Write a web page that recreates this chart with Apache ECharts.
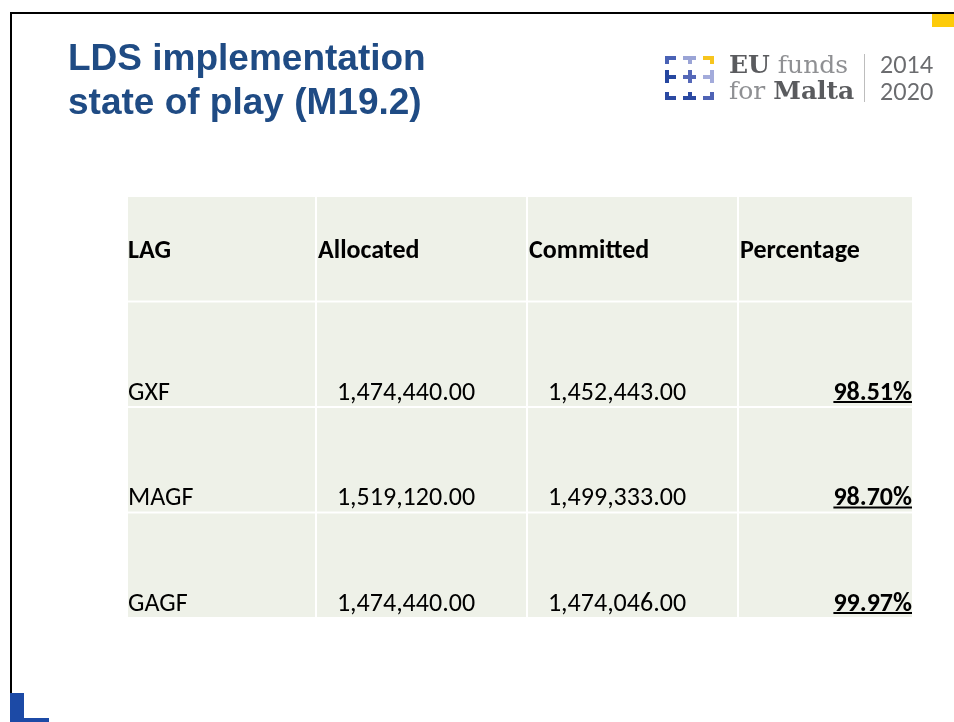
<!DOCTYPE html>
<html>
<head>
<meta charset="utf-8">
<title>LDS implementation state of play (M19.2)</title>
<script src="https://cdn.jsdelivr.net/npm/echarts@6.0.0/dist/echarts.min.js"></script>
<style>
  html, body { margin: 0; padding: 0; background: #fff; }
  #chart { width: 954px; height: 722px; }
</style>
</head>
<body>
<div id="chart"></div>
<script>
// table values
const headers = ["LAG", "Allocated", "Committed", "Percentage"];
const lags = ["GXF", "MAGF", "GAGF"];
const allocated = [1474440.0, 1519120.0, 1474440.0];
const committed = [1452443.0, 1499333.0, 1474046.0];
const percentage = [98.51, 98.7, 99.97];

// column edges in table units (the table is 786 units wide)
const colEdges = [0, 189, 400, 611, 786];

const TABLE_FONT = "Carlito, Lato, sans-serif";
const CELL_BG = "#eef1e8";

function money(v) {
  return v.toLocaleString("en-US", { minimumFractionDigits: 2, maximumFractionDigits: 2 });
}
function pct(v) {
  return v.toFixed(2) + "%";
}

// text for each cell, row 0 is the header
const cellText = [headers];
lags.forEach(function (lag, i) {
  cellText.push([lag, money(allocated[i]), money(committed[i]), pct(percentage[i])]);
});

const cells = [];
cellText.forEach(function (row, r) {
  row.forEach(function (t, c) {
    cells.push([c, r]);
  });
});

// measure text for the underline under the percentages
const measureCtx = document.createElement("canvas").getContext("2d");
function textWidth(str, font) {
  measureCtx.font = font;
  return measureCtx.measureText(str).width;
}

function renderCell(params, api) {
  const c = api.value(0);
  const r = api.value(1);
  const p0 = api.coord([colEdges[c], r]);
  const p1 = api.coord([colEdges[c + 1], r]);
  const h = api.size([0, 1])[1];
  const x0 = p0[0];
  const x1 = p1[0];
  const top = p0[1] - h / 2;
  const bottom = p0[1] + h / 2;
  const str = cellText[r][c];

  const children = [
    {
      type: "rect",
      shape: { x: x0 + 1, y: top + 1, width: x1 - x0 - 2, height: h - 2 },
      style: { fill: CELL_BG },
    },
  ];

  if (r === 0) {
    children.push({
      type: "text",
      style: {
        text: str,
        x: x0 + (c === 0 ? 1 : 2),
        y: p0[1] + 3,
        align: "left",
        verticalAlign: "middle",
        font: "bold 26px " + TABLE_FONT,
        fill: "#000",
      },
    });
  } else {
    let x = x0 + 1;
    let align = "left";
    let font = "26px " + TABLE_FONT;
    if (c === 1 || c === 2) {
      x = x0 + 90;
      align = "center";
    } else if (c === 3) {
      x = x1 - 1;
      align = "right";
      font = "bold 26px " + TABLE_FONT;
    }
    children.push({
      type: "text",
      style: {
        text: str,
        x: x,
        y: bottom - 1,
        align: align,
        verticalAlign: "bottom",
        font: font,
        fill: "#000",
      },
    });
    if (c === 3) {
      const w = textWidth(str, font);
      children.push({
        type: "line",
        shape: { x1: x - w, y1: bottom - 5, x2: x, y2: bottom - 5 },
        style: { stroke: "#000", lineWidth: 2 },
      });
    }
  }
  return { type: "group", children: children };
}

// logo marks: each piece is two bars [x, y, w, h], plus a colour
const logoPieces = [
  { color: "#4a62b5", bars: [[665, 56, 11, 4], [665, 56, 4, 8]] },
  { color: "#9aa4d6", bars: [[683, 56, 13, 4], [688, 56, 4, 8]] },
  { color: "#f7c51e", bars: [[703, 56, 11, 4], [710, 56, 4, 8]] },
  { color: "#2647a0", bars: [[665, 70, 4, 13], [665, 75, 11, 4]] },
  { color: "#5568b8", bars: [[683, 75, 13, 4], [688, 70, 4, 13]] },
  { color: "#a3abdb", bars: [[710, 70, 4, 13], [703, 75, 11, 4]] },
  { color: "#2b49a2", bars: [[665, 92, 4, 8], [665, 96, 11, 4]] },
  { color: "#2b49a2", bars: [[683, 96, 13, 4], [688, 92, 4, 8]] },
  { color: "#4f63b5", bars: [[710, 92, 4, 8], [703, 96, 11, 4]] },
];

const logoRich = {
  b: { font: "bold 25px 'DejaVu Serif', serif", fill: "#5a5b5e" },
  l: { font: "25px 'DejaVu Serif', serif", fill: "#8f9093" },
};

const graphics = [
  // slide frame
  { type: "rect", shape: { x: 10, y: 12, width: 944, height: 2 }, style: { fill: "#000" } },
  { type: "rect", shape: { x: 10, y: 12, width: 2, height: 710 }, style: { fill: "#000" } },
  { type: "rect", shape: { x: 932, y: 14, width: 22, height: 13 }, style: { fill: "#fdcb0a" } },
  { type: "rect", shape: { x: 10, y: 693, width: 14, height: 29 }, style: { fill: "#1c4aa6" } },
  { type: "rect", shape: { x: 10, y: 718, width: 39, height: 4 }, style: { fill: "#1c4aa6" } },
  // title
  {
    type: "text",
    left: 68,
    top: 38,
    style: {
      text: "LDS implementation\nstate of play (M19.2)",
      font: "bold 37px 'Liberation Sans', Arial, sans-serif",
      lineHeight: 44,
      fill: "#1f4b84",
    },
  },
  // logo text
  {
    type: "text",
    style: { text: "{b|EU}{l| funds}", x: 729, y: 66, verticalAlign: "middle", rich: logoRich },
  },
  {
    type: "text",
    style: { text: "{l|for }{b|Malta}", x: 729, y: 92, verticalAlign: "middle", rich: logoRich },
  },
  { type: "rect", shape: { x: 864, y: 54, width: 1, height: 48 }, style: { fill: "#bdbdbd" } },
  {
    type: "text",
    style: { text: "2014", x: 880, y: 66, verticalAlign: "middle", font: "23px Lato, sans-serif", fill: "#6b6c6f" },
  },
  {
    type: "text",
    style: { text: "2020", x: 880, y: 93, verticalAlign: "middle", font: "23px Lato, sans-serif", fill: "#6b6c6f" },
  },
];

logoPieces.forEach(function (p) {
  p.bars.forEach(function (b) {
    graphics.push({
      type: "rect",
      shape: { x: b[0], y: b[1], width: b[2], height: b[3] },
      style: { fill: p.color },
    });
  });
});

const chart = echarts.init(document.getElementById("chart"), null, { renderer: "canvas" });

chart.setOption({
  animation: false,
  backgroundColor: "#ffffff",
  grid: { left: 127, top: 196, width: 786, height: 422 },
  xAxis: { type: "value", min: 0, max: colEdges[colEdges.length - 1], show: false },
  yAxis: {
    type: "category",
    data: [headers[0]].concat(lags),
    inverse: true,
    show: false,
  },
  graphic: graphics,
  series: [
    {
      type: "custom",
      renderItem: renderCell,
      data: cells,
      silent: true,
    },
  ],
});
</script>
</body>
</html>
